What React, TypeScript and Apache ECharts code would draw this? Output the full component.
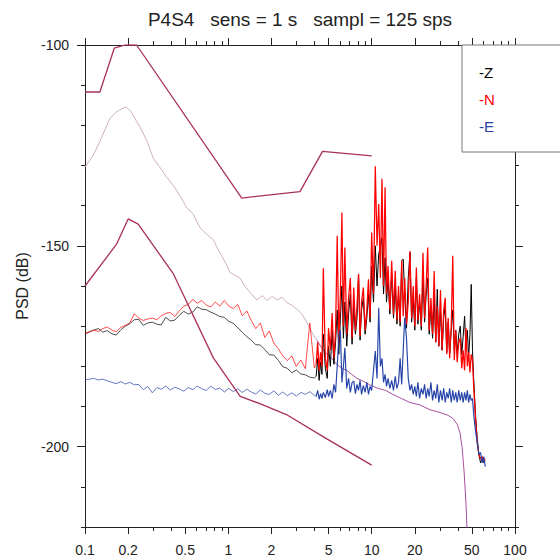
import React, { useEffect, useRef } from 'react';
import * as echarts from 'echarts';

const TITLE = 'P4S4   sens = 1 s   sampl = 125 sps';
const Y_NAME = 'PSD (dB)';
const X_MAJOR = [0.1, 0.2, 0.5, 1, 2, 5, 10, 20, 50, 100];
const X_MINOR = [0.3, 0.4, 0.6, 0.7, 0.8, 0.9, 3, 4, 6, 7, 8, 9, 30, 40, 60, 70, 80, 90];
const Y_MAJOR = [-200, -150, -100];

const LEGEND_NAMES = ['Z', 'N', 'E'];

// measured spectra: shared frequency grid (Hz)
const FREQ = [
  0.1, 0.107, 0.115, 0.124, 0.133, 0.143, 0.154, 0.165, 0.178, 0.191,
  0.205, 0.221, 0.237, 0.255, 0.274, 0.295, 0.317, 0.34, 0.366, 0.393,
  0.423, 0.455, 0.489, 0.525, 0.565, 0.607, 0.653, 0.702, 0.754, 0.811,
  0.872, 0.937, 1.007, 1.083, 1.164, 1.251, 1.345, 1.446, 1.554, 1.671,
  1.796, 1.931, 2.076, 2.231, 2.399, 2.579, 2.772, 2.98, 3.204, 3.444,
  3.702, 3.98,
  4.1, 4.2, 4.3, 4.4, 4.5, 4.6, 4.75, 4.9, 5.0, 5.15,
  5.3, 5.45, 5.6, 5.75, 5.9, 6.05, 6.2, 6.35, 6.5, 6.7,
  6.9, 7.1, 7.3, 7.5, 7.7, 7.9, 8.1, 8.3, 8.5, 8.75,
  9.0, 9.25, 9.5, 9.75, 10.0, 10.3, 10.6, 10.9, 11.2, 11.5,
  11.8, 12.1, 12.4, 12.7, 13.0, 13.4, 13.8, 14.2, 14.6, 15.0,
  15.4, 15.8, 16.2, 16.6, 17.0, 17.5, 18.0, 18.5, 19.0, 19.5,
  20.0, 20.5, 21.0, 21.6, 22.2, 22.8, 23.4, 24.0, 24.6, 25.2,
  25.9, 26.6, 27.3, 28.0, 28.7, 29.4, 30.2, 31.0, 31.8, 32.6,
  33.4, 34.2, 35.0, 35.9, 36.8, 37.7, 38.6, 39.5, 40.5, 41.5,
  42.5, 43.5, 44.5, 45.5, 46.5, 47.5, 48.5, 49.5, 50.5,
  51.5, 53, 54.5, 56, 57.5, 59, 60.5, 62,
];
// index in FREQ where the dense, spiky band begins (4.1 Hz)
const DENSE_START = 52;

const Z_PSD = [
  -172.0, -171.4, -171.0, -170.6, -171.5, -171.1, -171.9, -172.2, -170.9, -170.0,
  -169.4, -168.4, -168.3, -169.8, -169.2, -169.0, -169.5, -169.7, -167.8, -168.7,
  -168.5, -167.3, -166.3, -167.0, -166.5, -165.2, -165.8, -165.9, -166.5, -167.0,
  -167.6, -167.8, -168.8, -169.3, -170.4, -171.5, -172.6, -173.5, -174.6, -174.7,
  -175.8, -177.1, -177.2, -178.5, -180.1, -180.5, -181.6, -180.9, -181.9, -182.1,
  -182.7, -182.9,
  -182.5, -178.0, -183.5, -179.0, -182.0, -172.0, -180.5, -183.0, -175.0, -180.0,
  -171.0, -179.5, -174.0, -166.0, -177.0, -168.0, -160.0, -173.0, -164.0, -175.0,
  -167.0, -162.0, -174.5, -165.0, -172.0, -168.0, -157.0, -173.5, -166.0, -163.0,
  -172.0, -168.0, -162.0, -169.0, -155.0, -164.0, -150.0, -160.0, -152.0, -150.4,
  -148.0, -162.0, -153.0, -164.0, -158.0, -167.0, -157.0, -168.0, -160.0, -169.5,
  -162.0, -170.0, -153.7, -153.3, -162.0, -170.5, -158.0, -151.7, -169.0, -163.0,
  -171.0, -158.0, -169.5, -164.0, -171.0, -157.0, -169.0, -162.0, -158.0, -172.0,
  -165.0, -173.0, -163.0, -174.0, -160.8, -175.0, -166.0, -176.0, -168.0, -165.0,
  -176.5, -169.0, -177.0, -171.0, -166.0, -176.0, -171.0, -176.5, -172.0, -170.0,
  -177.0, -172.5, -167.5, -176.0, -171.0, -177.5, -172.0, -159.6, -176.0,
  -183.0, -192.0, -198.0, -202.0, -204.0, -203.0, -204.0, -203.5,
];

const N_PSD = [
  -171.7, -171.5, -171.0, -171.3, -170.6, -170.2, -171.0, -171.4, -170.3, -169.8,
  -169.2, -166.9, -168.0, -168.6, -168.2, -168.0, -168.4, -167.4, -166.8, -166.6,
  -167.6, -166.2, -165.0, -164.6, -163.3, -164.3, -163.6, -164.8, -165.2, -164.0,
  -165.0, -163.6, -165.0, -165.6, -164.6, -167.4, -166.2, -168.6, -170.6, -169.2,
  -172.8, -171.2, -174.2, -175.6, -177.4, -178.6, -177.4, -180.0, -178.4, -180.6,
  -169.2, -180.4,
  -179.5, -174.0, -181.0, -176.5, -180.0, -155.6, -178.0, -181.0, -170.5, -176.0,
  -166.7, -178.0, -171.0, -147.5, -174.0, -162.0, -141.7, -170.0, -150.4, -172.0,
  -163.0, -158.0, -173.0, -160.4, -171.0, -165.0, -157.0, -172.5, -164.0, -160.4,
  -171.0, -166.0, -158.3, -168.0, -146.7, -162.0, -130.2, -150.0, -139.6, -158.0,
  -133.3, -160.0, -135.4, -162.0, -155.0, -166.0, -153.7, -167.0, -156.2, -168.5,
  -160.0, -169.0, -153.7, -167.5, -158.0, -169.5, -164.0, -151.3, -168.0, -160.0,
  -170.0, -155.4, -168.5, -162.0, -170.0, -151.7, -168.0, -160.0, -150.4, -171.0,
  -163.0, -172.0, -156.3, -174.0, -165.0, -175.0, -161.0, -176.0, -166.0, -162.9,
  -177.0, -168.0, -178.0, -170.0, -152.5, -178.5, -171.0, -179.0, -174.0, -173.0,
  -180.5, -176.0, -181.0, -170.4, -180.0, -176.5, -181.5, -177.0, -178.5,
  -185.0, -193.0, -199.0, -202.0, -203.0, -202.5, -203.5, -203.0,
];

const E_PSD = [
  -183.3, -183.2, -183.0, -183.4, -183.2, -183.6, -184.0, -184.3, -183.8, -184.4,
  -184.0, -184.6, -184.5, -185.8, -185.0, -186.6, -185.3, -185.7, -184.9, -185.9,
  -185.2, -185.6, -186.2, -185.3, -185.8, -184.9, -185.6, -186.0, -184.9, -185.8,
  -185.4, -186.4, -185.5, -186.3, -185.6, -186.5, -185.7, -186.4, -186.9, -185.9,
  -186.7, -187.0, -186.1, -187.2, -186.4, -187.3, -186.6, -187.4, -186.5, -187.0,
  -186.3, -187.2,
  -187.5, -186.0, -188.2, -186.8, -188.0, -186.5, -187.8, -185.8, -187.5, -186.0,
  -188.0, -184.5, -186.5, -180.0, -172.5, -171.0, -184.0, -180.0, -175.4, -185.5,
  -183.0, -186.5, -184.0, -183.7, -186.8, -184.5, -186.0, -183.5, -187.0, -184.8,
  -186.5, -184.0, -187.0, -185.0, -186.0, -181.0, -176.2, -183.0, -165.4, -180.0,
  -178.0, -184.0, -182.0, -185.0, -183.0, -185.5, -183.5, -186.0, -182.5, -185.5,
  -184.0, -178.0, -184.5, -176.0, -167.9, -173.0, -183.0, -186.0, -184.5, -187.0,
  -185.0, -187.5, -184.0, -188.0, -185.5, -187.0, -184.5, -188.0, -185.5, -187.5,
  -184.0, -188.5, -186.0, -188.0, -184.5, -189.0, -186.0, -188.5, -185.5, -189.0,
  -186.5, -188.0, -185.5, -189.0, -186.0, -188.5, -186.5, -189.0, -186.0, -188.5,
  -186.5, -189.0, -186.5, -188.5, -186.0, -189.0, -187.0, -188.5, -188.0,
  -192.0, -196.0, -199.0, -202.0, -201.5, -204.0, -202.5, -205.0,
];

// pink / purple reference curve
const REF_FREQ = [
  0.1, 0.114, 0.127, 0.138, 0.149, 0.164, 0.178, 0.193, 0.209, 0.227,
  0.242, 0.27, 0.3, 0.334, 0.371, 0.424, 0.46, 0.512, 0.567, 0.635,
  0.70, 0.786, 0.85, 0.9, 0.98, 1.03, 1.11, 1.206, 1.3, 1.417,
  1.58, 1.73, 1.86, 2.02, 2.19, 2.37, 2.57, 2.78, 3.01, 3.26,
  3.53, 3.82, 4.15, 4.5, 4.88, 5.27, 5.7, 6.2, 6.7, 7.25,
  7.9, 8.5, 9.7, 11.1, 12.5, 14.1, 16.1, 18.5, 21.7, 25.5,
  30, 34.1, 37, 39.6, 41.3, 42.7, 44.1, 45.5, 46.3,
];
const REF_PSD = [
  -130.4, -127.5, -124.0, -121.0, -118.3, -116.8, -116.0, -115.4, -116.5, -118.8,
  -120.4, -123.8, -128.3, -130.5, -132.9, -135.5, -137.5, -140.5, -142.0, -145.5,
  -147.0, -148.5, -151.0, -152.5, -155.0, -156.7, -157.3, -158.0, -160.0, -161.6,
  -163.5, -162.4, -163.6, -162.6, -163.5, -162.8, -164.2, -164.8, -165.8, -167.0,
  -169.0, -171.5, -173.5, -175.5, -177.0, -178.0, -179.5, -180.5, -181.0, -182.0,
  -183.0, -183.5, -184.6, -185.5, -186.0, -187.0, -188.0, -189.0, -189.6, -190.8,
  -191.5, -192.2, -193.0, -194.5, -196.5, -200.0, -206.0, -214.0, -221.0,
];
// index in REF_FREQ where the curve turns from pale pink to purple (4.15 Hz)
const REF_SPLIT = 42;

// noise models
const NHNM_FREQ = [0.1, 0.127, 0.16, 0.19, 0.229, 1.24, 3.16, 4.54, 10];
const NHNM_PSD = [-111.7, -111.7, -100.8, -100.0, -100.0, -138.1, -136.5, -126.5, -127.6];
const NLNM_FREQ = [0.1, 0.166, 0.2, 0.235, 0.414, 0.786, 1.21, 1.66, 2.54, 4.83, 10];
const NLNM_PSD = [-160.0, -149.6, -143.3, -144.6, -157.0, -177.9, -187.5, -189.3, -192.0, -198.0, -204.6];

const FONT = "'Liberation Sans', Arial, Helvetica, sans-serif";
const AXIS_COLOR = '#222';
const COLORS: Record<string, string> = { Z: '#000000', N: '#ff0000', E: '#2442a8' };
const DENSE_WIDTH: Record<string, number> = { Z: 1.0, N: 1.25, E: 1.15 };
const MAROON = '#a83058';
const PINK = '#caa6ba';
const PURPLE = '#a8509e';

function zip(xs: number[], ys: number[], from = 0, to = Infinity) {
  const n = Math.min(xs.length, ys.length, to);
  const out: number[][] = [];
  for (let i = from; i < n; i++) out.push([xs[i], ys[i]]);
  return out;
}

const fmt = (v: number) => String(parseFloat(Number(v).toPrecision(6)));

function xAx(position: 'top' | 'bottom', ticks: number[], len: number, line: boolean, labels: boolean) {
  return {
    type: 'log',
    logBase: 10,
    position,
    min: 0.1,
    max: 100,
    axisLine: { show: line, onZero: false, lineStyle: { color: AXIS_COLOR, width: 1 } },
    axisTick: { show: true, customValues: ticks, length: len, lineStyle: { color: AXIS_COLOR, width: 1 } },
    axisLabel: labels
      ? { show: true, customValues: ticks, margin: 16, fontSize: 14, color: AXIS_COLOR, fontFamily: FONT, formatter: fmt }
      : { show: false },
    splitLine: { show: false },
    minorTick: { show: false },
    axisPointer: { show: false },
  };
}

function yAx(position: 'left' | 'right', major: boolean, line: boolean, labels: boolean, withName: boolean) {
  const ax: any = {
    type: 'value',
    position,
    min: -220,
    max: -100,
    interval: 10,
    axisLine: { show: line, onZero: false, lineStyle: { color: AXIS_COLOR, width: 1 } },
    axisTick: major
      ? { show: true, customValues: Y_MAJOR, length: 8, lineStyle: { color: AXIS_COLOR, width: 1 } }
      : { show: true, length: 4, lineStyle: { color: AXIS_COLOR, width: 1 } },
    axisLabel: labels
      ? { show: true, customValues: Y_MAJOR, margin: 16, fontSize: 14, color: AXIS_COLOR, fontFamily: FONT }
      : { show: false },
    splitLine: { show: false },
  };
  if (withName) {
    ax.name = Y_NAME;
    ax.nameLocation = 'middle';
    ax.nameGap = 52;
    ax.nameTextStyle = { fontSize: 16, color: AXIS_COLOR, fontFamily: FONT };
  }
  return ax;
}

function lineSeries(name: string, data: number[][], color: string, width: number, z = 2) {
  return {
    type: 'line',
    name,
    data,
    xAxisIndex: 0,
    yAxisIndex: 0,
    showSymbol: false,
    symbol: 'none',
    silent: true,
    z,
    lineStyle: { color, width },
    emphasis: { disabled: true },
  };
}

export default function App() {
  const ref = useRef<HTMLDivElement>(null);
  useEffect(() => {
    if (!ref.current) return;
    const chart = echarts.init(ref.current, undefined, { renderer: 'svg' });
    const legendItems = LEGEND_NAMES.map((nm, i) => ({
      type: 'text',
      x: 479,
      y: 72 + i * 27,
      z: 101,
      style: {
        text: '-' + nm,
        fill: COLORS[nm],
        font: `15px ${FONT}`,
        verticalAlign: 'middle',
        textVerticalAlign: 'middle',
      },
    }));
    const psd: Record<string, number[]> = { Z: Z_PSD, N: N_PSD, E: E_PSD };
    const dataSeries: any[] = [];
    LEGEND_NAMES.forEach((nm, k) => {
      dataSeries.push(lineSeries(nm, zip(FREQ, psd[nm], 0, DENSE_START + 1), COLORS[nm], 0.7, 3 + k));
      dataSeries.push(lineSeries(nm, zip(FREQ, psd[nm], DENSE_START), COLORS[nm], DENSE_WIDTH[nm], 3 + k));
    });
    const option: any = {
      animation: false,
      backgroundColor: '#ffffff',
      grid: { left: 85, right: 45, top: 45, bottom: 33 },
      xAxis: [
        xAx('bottom', X_MAJOR, 7, true, true),
        xAx('bottom', X_MINOR, 4, false, false),
        xAx('top', X_MAJOR, 7, true, false),
        xAx('top', X_MINOR, 4, false, false),
      ],
      yAxis: [
        yAx('left', false, true, true, true),
        yAx('left', true, false, false, false),
        yAx('right', false, true, false, false),
        yAx('right', true, false, false, false),
      ],
      series: [
        lineSeries('ref', zip(REF_FREQ, REF_PSD, 0, REF_SPLIT + 1), PINK, 0.9, 2),
        lineSeries('ref', zip(REF_FREQ, REF_PSD, REF_SPLIT), PURPLE, 1.0, 2),
        ...dataSeries,
        lineSeries('NHNM', zip(NHNM_FREQ, NHNM_PSD), MAROON, 1.3, 7),
        lineSeries('NLNM', zip(NLNM_FREQ, NLNM_PSD), MAROON, 1.3, 7),
      ],
      graphic: [
        {
          type: 'text',
          x: 300,
          y: 19,
          z: 101,
          style: {
            text: TITLE,
            fill: '#222',
            font: `19px ${FONT}`,
            align: 'center',
            textAlign: 'center',
            verticalAlign: 'middle',
            textVerticalAlign: 'middle',
          },
        },
        {
          type: 'rect',
          z: 100,
          shape: { x: 462, y: 45, width: 110, height: 107 },
          style: { fill: '#ffffff', stroke: '#777777', lineWidth: 1 },
        },
        ...legendItems,
      ],
    };
    chart.setOption(option);
    return () => chart.dispose();
  }, []);
  return <div ref={ref} style={{ position: 'absolute', left: 0, top: 0, width: 560, height: 560 }} />;
}
